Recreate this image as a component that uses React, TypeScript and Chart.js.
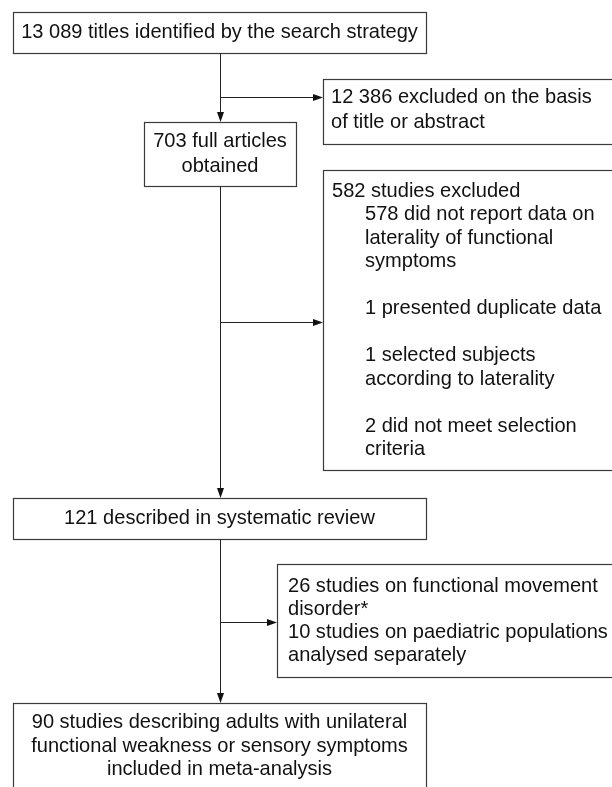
import { useEffect, useRef } from "react";
import { Chart, registerables } from "chart.js";

Chart.register(...registerables);

// ---- data ----
const titlesIdentified = 13089;
const excludedOnTitle = 12386;
const fullArticles = 703;
const studiesExcluded = 582;
const exclusionCounts = [578, 1, 1, 2];
const exclusionReasons = [
  ["did not report data on", "laterality of functional", "symptoms"],
  ["presented duplicate data"],
  ["selected subjects", "according to laterality"],
  ["did not meet selection", "criteria"],
];
const inSystematicReview = 121;
const separateCounts = [26, 10];
const separateLabels = [
  ["studies on functional movement", "disorder*"],
  ["studies on paediatric populations", "analysed separately"],
];
const inMetaAnalysis = 90;

const fmt = (n: number) =>
  String(n).length > 4 ? String(n).replace(/\B(?=(\d{3})+(?!\d))/g, " ") : String(n);

const FONT_FAMILY = '"Liberation Sans", Arial, sans-serif';

type Box = {
  x1: number; y1: number; x2: number; y2: number;
  lines: { t: string; dx?: number }[];
  align: "center" | "left";
  base: number; lh: number; pad?: number;
};

function buildBoxes(): Box[] {
  const box4Lines: { t: string; dx?: number }[] = [{ t: `${studiesExcluded} studies excluded` }];
  exclusionReasons.forEach((r, i) => {
    if (i > 0) box4Lines.push({ t: "" });
    r.forEach((s, j) => box4Lines.push({ t: j === 0 ? `${exclusionCounts[i]} ${s}` : s, dx: 33 }));
  });
  const box6Lines: { t: string }[] = [];
  separateLabels.forEach((r, i) =>
    r.forEach((s, j) => box6Lines.push({ t: j === 0 ? `${separateCounts[i]} ${s}` : s }))
  );
  return [
    { x1: 13, y1: 12, x2: 426, y2: 53, align: "center", base: 38, lh: 24,
      lines: [{ t: `${fmt(titlesIdentified)} titles identified by the search strategy` }] },
    { x1: 323, y1: 79, x2: 616, y2: 144, align: "left", base: 103, lh: 25, pad: 8,
      lines: [{ t: `${fmt(excludedOnTitle)} excluded on the basis` }, { t: "of title or abstract" }] },
    { x1: 144, y1: 122, x2: 296, y2: 186, align: "center", base: 147, lh: 25,
      lines: [{ t: `${fmt(fullArticles)} full articles` }, { t: "obtained" }] },
    { x1: 323, y1: 170, x2: 616, y2: 470, align: "left", base: 196.5, lh: 23.5, pad: 9,
      lines: box4Lines },
    { x1: 13, y1: 498, x2: 426, y2: 539, align: "center", base: 524, lh: 24,
      lines: [{ t: `${fmt(inSystematicReview)} described in systematic review` }] },
    { x1: 277, y1: 564, x2: 616, y2: 677, align: "left", base: 592, lh: 23, pad: 11,
      lines: box6Lines },
    { x1: 13, y1: 703, x2: 426, y2: 800, align: "center", base: 728, lh: 23.5,
      lines: [
        { t: `${inMetaAnalysis} studies describing adults with unilateral` },
        { t: "functional weakness or sensory symptoms" },
        { t: "included in meta-analysis" },
      ] },
  ];
}

// connectors: [x1, y1, x2, y2, arrow]
const connectors: [number, number, number, number, boolean][] = [
  [220, 53, 220, 122, true],
  [220, 97, 323, 97, true],
  [220, 186, 220, 498, true],
  [220, 322, 323, 322, true],
  [220, 539, 220, 703, true],
  [220, 622, 277, 622, true],
];

const flowPlugin = {
  id: "flow",
  afterDraw(chart: any) {
    const { ctx } = chart;
    const xs = chart.scales.x, ys = chart.scales.y;
    const X = (v: number) => xs.getPixelForValue(v);
    const Y = (v: number) => ys.getPixelForValue(v);
    ctx.save();
    // font size fit
    ctx.font = `100px ${FONT_FAMILY}`;
    const w = ctx.measureText(`${fmt(titlesIdentified)} titles identified by the search strategy`).width;
    const fs = (100 * 397) / w;
    const boxes = buildBoxes();
    ctx.lineWidth = 1.2;
    ctx.strokeStyle = "#3a3a3a";
    ctx.fillStyle = "#111";
    for (const b of boxes) {
      const x1 = Math.round(X(b.x1)) + 0.5, y1 = Math.round(Y(b.y1)) + 0.5;
      const x2 = Math.round(X(b.x2)) + 0.5, y2 = Math.round(Y(b.y2)) + 0.5;
      ctx.fillStyle = "#fff";
      ctx.fillRect(x1, y1, x2 - x1, y2 - y1);
      ctx.strokeRect(x1, y1, x2 - x1, y2 - y1);
      ctx.fillStyle = "#111";
      ctx.font = `${fs}px ${FONT_FAMILY}`;
      ctx.textBaseline = "alphabetic";
      b.lines.forEach((l, i) => {
        if (!l.t) return;
        const yy = Y(b.base + i * b.lh);
        if (b.align === "center") {
          ctx.textAlign = "center";
          ctx.fillText(l.t, X((b.x1 + b.x2) / 2), yy);
        } else {
          ctx.textAlign = "left";
          ctx.fillText(l.t, X(b.x1 + (b.pad || 8) + (l.dx || 0)), yy);
        }
      });
    }
    ctx.strokeStyle = "#222";
    ctx.fillStyle = "#111";
    ctx.lineWidth = 1;
    for (const [ax, ay, bx, by, arrow] of connectors) {
      const x1 = X(ax), y1 = Y(ay), x2 = X(bx), y2 = Y(by);
      const horiz = y1 === y2;
      const L = 10, H = 3.5;
      ctx.beginPath();
      if (horiz) {
        const yy = Math.round(y1) + 0.5;
        ctx.moveTo(x1, yy);
        ctx.lineTo(x2 - (arrow ? L : 0), yy);
        ctx.stroke();
        if (arrow) {
          ctx.beginPath();
          ctx.moveTo(x2, yy);
          ctx.lineTo(x2 - L, yy - H);
          ctx.lineTo(x2 - L, yy + H);
          ctx.closePath();
          ctx.fill();
        }
      } else {
        const xx = Math.round(x1) + 0.5;
        ctx.moveTo(xx, y1);
        ctx.lineTo(xx, y2 - (arrow ? L : 0));
        ctx.stroke();
        if (arrow) {
          ctx.beginPath();
          ctx.moveTo(xx, y2);
          ctx.lineTo(xx - H, y2 - L);
          ctx.lineTo(xx + H, y2 - L);
          ctx.closePath();
          ctx.fill();
        }
      }
    }
    ctx.restore();
  },
};

export default function App() {
  const ref = useRef<HTMLCanvasElement>(null);
  useEffect(() => {
    if (!ref.current) return;
    const pts = connectors.flatMap(([a, b, c, d]) => [{ x: a, y: b }, { x: c, y: d }]);
    const chart = new Chart(ref.current, {
      type: "scatter",
      data: { datasets: [{ data: pts, pointRadius: 0, showLine: false }] },
      options: {
        animation: false,
        responsive: false,
        devicePixelRatio: 1,
        layout: { padding: 0 },
        plugins: { legend: { display: false }, tooltip: { enabled: false } },
        scales: {
          x: { type: "linear", min: 0, max: 612, display: false },
          y: { type: "linear", min: 0, max: 787, reverse: true, display: false },
        },
      },
      plugins: [flowPlugin],
    });
    return () => chart.destroy();
  }, []);
  return (
    <div style={{ position: "fixed", left: 0, top: 0, width: 612, height: 787, background: "#fff" }}>
      <canvas ref={ref} width={612} height={787} style={{ width: 612, height: 787 }} />
    </div>
  );
}
